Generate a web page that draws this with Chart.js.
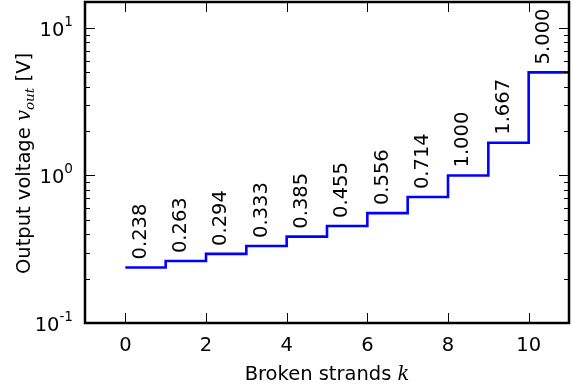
<!DOCTYPE html>
<html>
<head>
<meta charset="utf-8">
<title>Output voltage vs broken strands</title>
<script src="https://cdn.jsdelivr.net/npm/chart.js@4/dist/chart.umd.min.js"></script>
<style>
  html, body { margin: 0; padding: 0; background: #fff; }
  #wrap { width: 573px; height: 388px; position: relative; }
</style>
</head>
<body>
<div id="wrap"><canvas id="voutChart"></canvas></div>
<script>
// Output voltage for k broken strands
const strands = [0, 1, 2, 3, 4, 5, 6, 7, 8, 9, 10];
const vout = [0.238, 0.263, 0.294, 0.333, 0.385, 0.455, 0.556, 0.714, 1.000, 1.667, 5.000];

// Axis ranges and ticks
const xRange = [-1, 11];
const yRange = [0.1, 15];
const xTicks = [0, 2, 4, 6, 8, 10];
const yTicks = [0.1, 1, 10];
const yTickExp = ['-1', '0', '1'];

const FONT = '"DejaVu Sans", sans-serif';
const SIZE = 19.5;
const SUB = 13.6;

// step line runs on to the right edge at the last value
const points = strands.map((k, i) => ({ x: k, y: vout[i] }));
points.push({ x: xRange[1], y: vout[vout.length - 1] });

function minorTicks() {
    const out = [];
    for (const d of yTicks) {
        for (let m = 2; m <= 9; m++) {
            const v = m * d;
            if (v > yRange[0] && v < yRange[1]) out.push(v);
        }
    }
    return out;
}

// frame, inward ticks, tick labels, titles and value labels
const decorPlugin = {
    id: 'decor',
    afterDatasetsDraw(chart) {
        const ctx = chart.ctx;
        const a = chart.chartArea;
        const xs = chart.scales.x;
        const ys = chart.scales.y;
        ctx.save();

        // value labels, rotated, above each step
        ctx.fillStyle = '#000';
        ctx.font = SIZE + 'px ' + FONT;
        ctx.textAlign = 'left';
        ctx.textBaseline = 'middle';
        strands.forEach((k, i) => {
            const px = xs.getPixelForValue(k + 0.38);
            const py = ys.getPixelForValue(vout[i]) - 8;
            ctx.save();
            ctx.translate(px, py);
            ctx.rotate(-Math.PI / 2);
            ctx.fillText(vout[i].toFixed(3), 0, 0);
            ctx.restore();
        });

        // ticks
        ctx.strokeStyle = '#000';
        ctx.lineWidth = 1;
        ctx.beginPath();
        xTicks.forEach(t => {
            const px = Math.round(xs.getPixelForValue(t)) + 0.5;
            ctx.moveTo(px, a.bottom); ctx.lineTo(px, a.bottom - 10);
            ctx.moveTo(px, a.top); ctx.lineTo(px, a.top + 10);
        });
        yTicks.forEach(t => {
            const py = Math.round(ys.getPixelForValue(t)) + 0.5;
            ctx.moveTo(a.left, py); ctx.lineTo(a.left + 10, py);
            ctx.moveTo(a.right, py); ctx.lineTo(a.right - 10, py);
        });
        minorTicks().forEach(t => {
            const py = Math.round(ys.getPixelForValue(t)) + 0.5;
            ctx.moveTo(a.left, py); ctx.lineTo(a.left + 5, py);
            ctx.moveTo(a.right, py); ctx.lineTo(a.right - 5, py);
        });
        ctx.stroke();

        // frame
        ctx.lineWidth = 2.5;
        ctx.strokeRect(a.left, a.top, a.right - a.left, a.bottom - a.top);

        // x tick labels
        ctx.font = SIZE + 'px ' + FONT;
        ctx.textAlign = 'center';
        ctx.textBaseline = 'alphabetic';
        xTicks.forEach(t => {
            ctx.fillText(String(t), xs.getPixelForValue(t), a.bottom + 28);
        });

        // y tick labels as 10^n
        yTicks.forEach((t, i) => {
            const py = ys.getPixelForValue(t);
            ctx.font = SUB + 'px ' + FONT;
            const ew = ctx.measureText(yTickExp[i]).width;
            ctx.textAlign = 'right';
            ctx.fillText(yTickExp[i], 73, py - 2);
            ctx.font = SIZE + 'px ' + FONT;
            ctx.fillText('10', 73 - ew, py + 8);
        });

        // x title: Broken strands k
        ctx.textAlign = 'left';
        const xt1 = 'Broken strands ';
        ctx.font = 'italic ' + SIZE + 'px "DejaVu Serif", serif';
        const kW = ctx.measureText('k').width;
        ctx.font = SIZE + 'px ' + FONT;
        const w1 = ctx.measureText(xt1).width;
        const cx = (a.left + a.right) / 2 - (w1 + kW) / 2;
        ctx.fillText(xt1, cx, 380);
        ctx.font = 'italic ' + SIZE + 'px "DejaVu Serif", serif';
        ctx.fillText('k', cx + w1, 380);

        // y title: Output voltage v_out [V]
        ctx.save();
        ctx.translate(30, (a.top + a.bottom) / 2 + 1);
        ctx.rotate(-Math.PI / 2);
        const parts = [
            { t: 'Output voltage ', f: SIZE + 'px ' + FONT, dy: 0 },
            { t: 'v', f: 'italic ' + SIZE + 'px "DejaVu Serif", serif', dy: 0 },
            { t: 'out', f: 'italic ' + SUB + 'px "DejaVu Serif", serif', dy: 4 },
            { t: ' [V]', f: SIZE + 'px ' + FONT, dy: 0 }
        ];
        let total = 0;
        parts.forEach(p => { ctx.font = p.f; p.w = ctx.measureText(p.t).width; total += p.w; });
        let x = -total / 2;
        parts.forEach(p => {
            ctx.font = p.f;
            ctx.fillText(p.t, x, p.dy);
            x += p.w;
        });
        ctx.restore();

        ctx.restore();
    }
};

new Chart(document.getElementById('voutChart'), {
    type: 'line',
    data: {
        datasets: [{
            data: points,
            borderColor: '#0000ff',
            borderWidth: 2.6,
            stepped: 'before',
            pointRadius: 0,
            fill: false
        }]
    },
    options: {
        responsive: true,
        maintainAspectRatio: false,
        animation: false,
        layout: { padding: { left: 85, top: 2, right: 4, bottom: 65 } },
        plugins: { legend: { display: false }, tooltip: { enabled: false } },
        scales: {
            x: { type: 'linear', min: xRange[0], max: xRange[1], display: false },
            y: { type: 'logarithmic', min: yRange[0], max: yRange[1], display: false }
        }
    },
    plugins: [decorPlugin]
});
</script>
</body>
</html>
